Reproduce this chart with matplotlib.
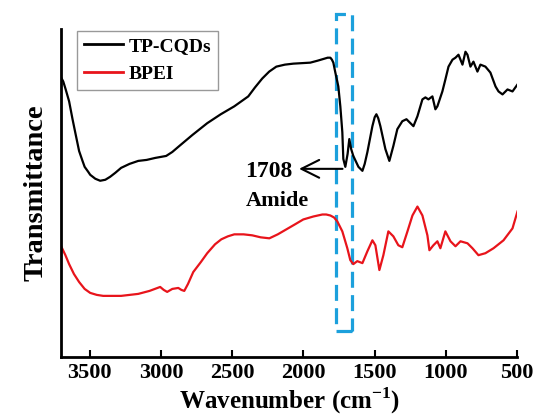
import matplotlib
matplotlib.use('Agg')
import matplotlib.pyplot as plt
from matplotlib.patches import Rectangle

plt.rcParams['font.family'] = 'Liberation Serif'
plt.rcParams['font.weight'] = 'bold'
plt.rcParams['mathtext.fontset'] = 'custom'
plt.rcParams['mathtext.rm'] = 'Liberation Serif:bold'
plt.rcParams['mathtext.bf'] = 'Liberation Serif:bold'

# FTIR spectra (wavenumber in cm-1, transmittance in arbitrary units)
wn_cqd = [3700, 3685, 3668, 3644, 3620, 3600, 3574, 3550, 3535, 3510, 3496, 3460,
          3426, 3390, 3356, 3320, 3279, 3220, 3159, 3100, 3040, 2963, 2920, 2871,
          2780, 2675, 2580, 2485, 2387, 2340, 2289, 2240, 2190, 2130, 2071, 1952,
          1900, 1853, 1830, 1811, 1800, 1790, 1776, 1755, 1741, 1727, 1720, 1706,
          1690, 1678, 1665, 1650, 1614, 1586, 1570, 1551, 1516, 1500, 1488, 1475,
          1460, 1425, 1397, 1369, 1341, 1306, 1277, 1249, 1228, 1200, 1165, 1144,
          1123, 1095, 1074, 1060, 1025, 1004, 982, 954, 933, 912, 884, 863, 849,
          828, 807, 779, 758, 723, 688, 652, 631, 603, 568, 533, 498]
t_cqd = [282, 278, 270, 258, 240, 226, 208, 198, 192, 187, 184, 180,
         178, 179, 182, 186, 191, 195, 198, 199, 201, 203, 207, 213,
         224, 236, 245, 253, 263, 272, 281, 288, 293, 295, 296, 297,
         299, 301, 302, 302, 300, 297, 287, 273, 253, 227, 200, 192,
         205, 220, 210, 203, 192, 188, 195, 207, 233, 242, 245, 241,
         233, 210, 198, 213, 230, 238, 240, 236, 233, 243, 260, 262,
         260, 263, 250, 253, 268, 280, 293, 300, 302, 305, 295, 308, 305,
         293, 298, 288, 295, 293, 287, 273, 268, 265, 270, 268, 275]

wn_bpei = [3700, 3670, 3644, 3610, 3574, 3535, 3496, 3450, 3405, 3279, 3159, 3080,
           3005, 2980, 2956, 2920, 2878, 2856, 2836, 2810, 2773, 2720, 2675, 2620,
           2576, 2530, 2485, 2420, 2359, 2300, 2239, 2180, 2120, 2060, 2001, 1930,
           1867, 1840, 1811, 1785, 1762, 1727, 1692, 1671, 1650, 1622, 1586, 1551,
           1516, 1495, 1467, 1439, 1404, 1369, 1334, 1306, 1270, 1235, 1200, 1165,
           1130, 1116, 1088, 1060, 1039, 1004, 968, 933, 898, 849, 814, 772, 723,
           666, 596, 533, 498]
t_bpei = [112, 103, 94, 84, 76, 69, 65, 63, 62, 62, 64, 67,
          71, 68, 66, 69, 70, 68, 67, 74, 86, 96, 105, 114,
          119, 122, 124, 124, 123, 121, 120, 124, 129, 134, 139, 142,
          144, 144, 143, 141, 137, 127, 110, 98, 94, 97, 95, 107,
          118, 113, 88, 103, 127, 122, 113, 111, 127, 143, 152, 143,
          123, 108, 113, 117, 110, 127, 117, 112, 117, 115, 110, 103, 105,
          110, 118, 130, 147]

peak_wn = 1706
peak_t = 190
box_wn = (1769, 1657)
box_t = (27, 346)

fig = plt.figure(figsize=(5.41, 4.19), dpi=100)
ax = fig.add_axes([0.113, 0.147, 0.843, 0.784])

ax.plot(wn_cqd, t_cqd, color='black', lw=1.6, label='TP-CQDs')
ax.plot(wn_bpei, t_bpei, color='#e8141b', lw=1.6, label='BPEI')

ax.set_xlim(3700, 500)
ax.set_ylim(0, 331)
ax.set_xticks([3500, 3000, 2500, 2000, 1500, 1000, 500])
ax.set_yticks([])
ax.tick_params(axis='x', direction='in', length=5, width=1.5, labelsize=16, pad=4)
for s in ['top', 'right']:
    ax.spines[s].set_visible(False)
ax.spines['left'].set_linewidth(2)
ax.spines['bottom'].set_linewidth(2)

ax.set_xlabel('Wavenumber (cm$^{-1}$)', fontsize=18, fontweight='bold', labelpad=2)
ax.set_ylabel('Transmittance', fontsize=20.5, fontweight='bold', labelpad=9)

# dashed box around the amide band
ax.add_patch(Rectangle((box_wn[1], box_t[0]), box_wn[0] - box_wn[1], box_t[1] - box_t[0],
                       fill=False, ec='#1ca0dc', lw=2.3, ls=(0, (5, 2.3)), clip_on=False))

ax.annotate('', xy=(2050, peak_t), xytext=(peak_wn, peak_t),
            arrowprops=dict(arrowstyle='->', color='black', lw=1.5, mutation_scale=32))
ax.text(2075, peak_t - 3, '1708', fontsize=17, fontweight='bold', ha='right', va='center')
ax.text(2185, peak_t - 32, 'Amide', fontsize=16, fontweight='bold', ha='center', va='center')

leg = ax.legend(loc='upper left', bbox_to_anchor=(0.035, 0.995), borderaxespad=0,
                fancybox=False, edgecolor='gray', fontsize=14, handlelength=2.0,
                handletextpad=0.3, borderpad=0.35, labelspacing=0.55)
leg.get_frame().set_linewidth(1.0)
for line in leg.get_lines():
    line.set_linewidth(2)

fig.savefig('out.png', dpi=100)
